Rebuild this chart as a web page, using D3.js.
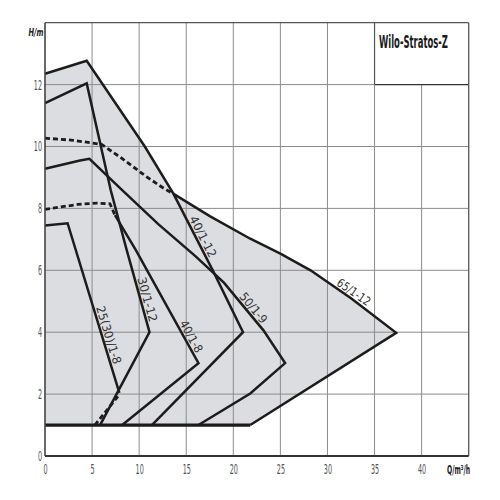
<!DOCTYPE html>
<html><head><meta charset="utf-8">
<script src="https://cdn.jsdelivr.net/npm/d3@7"></script>
<style>html,body{margin:0;padding:0;background:#fff}</style>
</head><body>
<svg id="chart" width="500" height="500"></svg>
<script>
// ---- data ----
const qTicks = [0,5,10,15,20,25,30,35,40];
const hTicks = [0,2,4,6,8,10,12];
const curve40_12 = [[0,12.35],[4.43,12.77],[10.6,10.0],[13.65,8.47],[17.9,5.95],[21.03,4.0],[11.35,1.0]];
const curve65_12 = [[13.65,8.47],[17.5,7.75],[21.8,7.02],[25.0,6.54],[28.2,6.0],[32.5,5.1],[37.3,3.98],[21.8,1.0]];
const curve65_12dash = [[0,10.27],[3,10.2],[6.0,10.07],[8.0,9.65],[10.8,9.02],[12.6,8.65],[13.65,8.47]];
const curve50_9 = [[0,9.28],[3.72,9.55],[4.72,9.6],[8,8.65],[12,7.5],[16,6.45],[19,5.6],[23.2,4.06],[25.5,3.0],[21.8,2.02],[16.3,1.0]];
const curve40_8dash = [[0,7.97],[3.5,8.13],[5.5,8.17],[6.9,8.15],[7.43,7.78]];
const curve40_8 = [[7.43,7.78],[9.65,6.65],[16.3,3.0],[8.2,1.0]];
const curve30_12 = [[0,11.4],[4.43,12.04],[6.99,8.58],[8.68,6.65],[11.1,4.0],[5.85,1.0]];
const curve25_8 = [[0,7.45],[2.4,7.52],[7.9,2.04]];
const curve25_8dash = [[7.75,1.93],[5.3,1.0]];
const baseLine = [[0,1],[21.8,1]];
const labelNames = ["25(30)/1-8","30/1-12","40/1-8","40/1-12","50/1-9","65/1-12"];
const labelQ = [6.09,10.19,14.92,16.15,21.6,32.4];
const labelCurves = [curve25_8,curve30_12,curve40_8,curve40_12,curve50_9,curve65_12];
const labelLen = [60,46,35,45,36,38];
const title = "Wilo-Stratos-Z";
const yTitle = "H/m";
const xTitle = "Q/m³/h";

// ---- chart ----
const svg = d3.select("#chart");
const x = d3.scaleLinear().domain([0,45]).range([45,468.7]);
const y = d3.scaleLinear().domain([0,14]).range([456,22.7]);
const line = d3.line().x(d=>x(d[0])).y(d=>y(d[1]));
const font = "'Liberation Sans Narrow','DejaVu Sans Condensed','Liberation Sans',sans-serif";

// helper: squeeze a text horizontally to a target width using a scale transform
function squeeze(sel, tx, ty, width, extra){
  const w = sel.node().getComputedTextLength();
  const s = w>0 ? width/w : 1;
  sel.attr("transform",`translate(${tx},${ty}) ${extra||""} scale(${s},1)`);
}

// envelope fill
const env = curve40_12.slice(0,4).concat(curve65_12.slice(1)).concat([[0,1]]);
svg.append("path").attr("d", line(env)+"Z").attr("fill","#dcdde0").attr("stroke","none");

// grid
const g = svg.append("g");
hTicks.filter(h=>h>0).forEach(h=>{
  g.append("line").attr("x1",x(0)).attr("x2",x(h===12?35:45)).attr("y1",y(h)).attr("y2",y(h))
   .attr("stroke","#8c8c8c").attr("stroke-width",1);
});
qTicks.filter(q=>q>0).forEach(q=>{
  g.append("line").attr("x1",x(q)).attr("x2",x(q)).attr("y1",y(0)).attr("y2",y(q>=35?12:14))
   .attr("stroke","#8c8c8c").attr("stroke-width",1);
});
// title box
g.append("line").attr("x1",x(35)).attr("x2",x(45)).attr("y1",y(12)).attr("y2",y(12)).attr("stroke","#333").attr("stroke-width",1.4);
g.append("line").attr("x1",x(35)).attr("x2",x(35)).attr("y1",y(12)).attr("y2",y(14)).attr("stroke","#555").attr("stroke-width",1.2);
// frame
g.append("line").attr("x1",x(0)).attr("x2",x(45)).attr("y1",y(14)).attr("y2",y(14)).attr("stroke","#555").attr("stroke-width",1.3);
g.append("line").attr("x1",x(45)).attr("x2",x(45)).attr("y1",y(14)).attr("y2",y(0)).attr("stroke","#555").attr("stroke-width",1.3);

// curves
const solid = [curve40_12,curve65_12,curve50_9,curve40_8,curve30_12,curve25_8];
const dashed = [curve65_12dash,curve40_8dash,curve25_8dash];
const cg = svg.append("g").attr("fill","none").attr("stroke","#1c1c1c").attr("stroke-linejoin","miter");
solid.forEach(c=>cg.append("path").attr("d",line(c)).attr("stroke-width",2.5));
dashed.forEach(c=>cg.append("path").attr("d",line(c)).attr("stroke-width",2.8).attr("stroke-dasharray","5,3"));
cg.append("path").attr("d",line(baseLine)).attr("stroke-width",3.2);

// axes
const xa = svg.append("g").attr("transform",`translate(0,${y(0)})`)
  .call(d3.axisBottom(x).tickValues(qTicks).tickSize(0).tickPadding(8));
const ya = svg.append("g").attr("transform",`translate(${x(0)},0)`)
  .call(d3.axisLeft(y).tickValues(hTicks).tickSize(0).tickPadding(3));
[xa,ya].forEach(a=>{
  a.select(".domain").remove();
  a.selectAll("text").attr("font-family",font).attr("font-size",14).attr("fill","#555")
   .each(function(){const t=this.textContent; d3.select(this).attr("textLength",t.length*4.1).attr("lengthAdjust","spacingAndGlyphs");});
});
svg.append("line").attr("x1",x(0)).attr("x2",x(0)).attr("y1",y(14)).attr("y2",y(0)).attr("stroke","#444").attr("stroke-width",1.6);
svg.append("line").attr("x1",x(0)).attr("x2",x(45)).attr("y1",y(0)).attr("y2",y(0)).attr("stroke","#333").attr("stroke-width",2);

// titles
const tt = svg.append("text").text(title).attr("font-family",font).attr("font-weight","bold")
  .attr("font-size",18).attr("fill","#1a1a1a");
squeeze(tt, 379, 48, 69);
const yt = svg.append("text").text(yTitle).attr("font-family",font)
  .attr("font-weight","bold").attr("font-style","italic").attr("font-size",11).attr("fill","#222");
squeeze(yt, 28.5, 35.5, 15);
const xt = svg.append("text").text(xTitle).attr("font-family",font)
  .attr("font-weight","bold").attr("font-size",13).attr("fill","#222");
squeeze(xt, 447, 474, 23);

// curve labels
labelNames.forEach((name,i)=>{
  const c = labelCurves[i], q = labelQ[i];
  let seg = null;
  for (let k=0;k<c.length-1;k++){
    const a=c[k], b=c[k+1];
    if (b[0]>a[0] && q>=a[0] && q<=b[0] && b[1]<a[1]) { seg=[a,b]; break; }
  }
  const [a,b] = seg;
  const h = a[1] + (q-a[0])/(b[0]-a[0])*(b[1]-a[1]);
  const ang = Math.atan2(y(b[1])-y(a[1]), x(b[0])-x(a[0]))*180/Math.PI;
  svg.append("text").attr("transform",`translate(${x(q)},${y(h)}) rotate(${ang})`)
    .attr("x",0).attr("y",-2.5).attr("text-anchor","middle").text(name)
    .attr("font-family",font).attr("font-size",12).attr("fill","#333")
    .attr("textLength",labelLen[i]).attr("lengthAdjust","spacingAndGlyphs");
});
</script>
</body></html>
